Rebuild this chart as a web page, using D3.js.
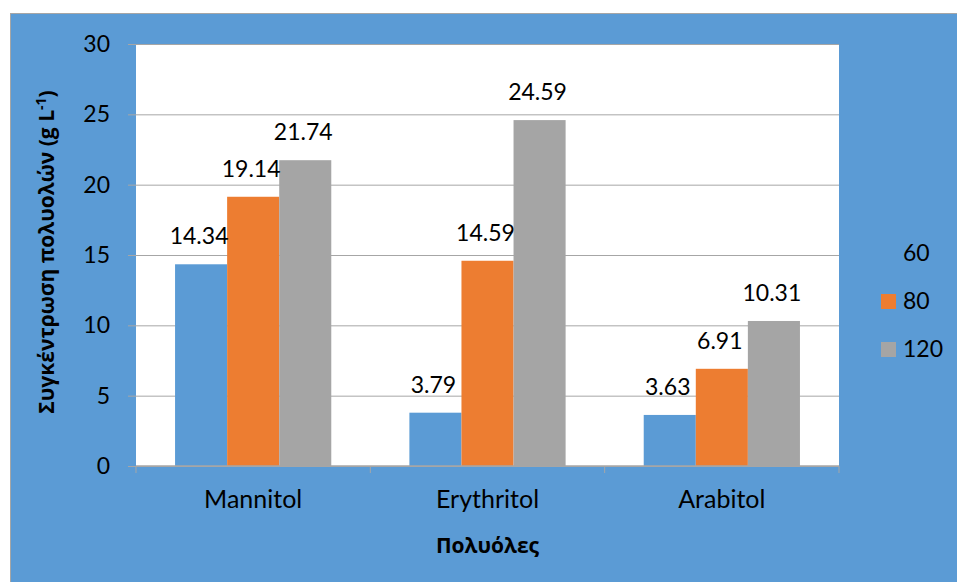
<!DOCTYPE html>
<html>
<head>
<meta charset="utf-8">
<script src="https://cdn.jsdelivr.net/npm/d3@7"></script>
<style>
  html, body { margin: 0; padding: 0; background: #ffffff; }
  svg { display: block; }
  text { font-family: Lato, "Open Sans", "Noto Sans", sans-serif; fill: #000; }
  .title { font-family: "Open Sans", "Noto Sans", sans-serif; font-weight: 700; }
</style>
</head>
<body>
<svg id="chart" width="957" height="582"></svg>
<script>
// Polyol concentration per sugar alcohol and series
const categories = ["Mannitol", "Erythritol", "Arabitol"];
const seriesNames = ["60", "80", "120"];
const values60 = [14.34, 3.79, 3.63];
const values80 = [19.14, 14.59, 6.91];
const values120 = [21.74, 24.59, 10.31];
const yTicks = [0, 5, 10, 15, 20, 25, 30];
const xTitle = "Πολυόλες";
const yTitle = "Συγκέντρωση πολυολών (g L";

const colors = ["#5B9BD5", "#ED7D31", "#A5A5A5"];
const seriesValues = [values60, values80, values120];

const svg = d3.select("#chart");
const W = 957, H = 582;

// chart area background
svg.append("rect")
  .attr("x", 10.5).attr("y", 13.5)
  .attr("width", W).attr("height", H)
  .attr("fill", "#5B9BD5")
  .attr("stroke", "#A6A6A6").attr("stroke-width", 1);

const plot = { left: 136, right: 839, top: 44, bottom: 466 };

const x = d3.scaleBand()
  .domain(categories)
  .range([plot.left, plot.right])
  .paddingInner(0).paddingOuter(0);

const xSeries = d3.scaleBand()
  .domain(seriesNames)
  .range([0, x.bandwidth()])
  .paddingInner(0)
  .paddingOuter(0.75);

const y = d3.scaleLinear().domain([0, 30]).range([plot.bottom, plot.top]);

// plot area
svg.append("rect")
  .attr("x", plot.left).attr("y", plot.top)
  .attr("width", plot.right - plot.left).attr("height", plot.bottom - plot.top)
  .attr("fill", "#ffffff");

// horizontal gridlines with left ticks
const yAxis = d3.axisLeft(y)
  .tickValues(yTicks)
  .tickSize(-(plot.right - plot.left))
  .tickPadding(26)
  .tickFormat(d3.format("d"));

const gy = svg.append("g")
  .attr("transform", `translate(${plot.left},0)`)
  .call(yAxis);
gy.select(".domain").remove();
gy.selectAll(".tick line").attr("stroke", "#A6A6A6").attr("stroke-width", 1);
gy.selectAll(".tick").append("line")
  .attr("x1", -8).attr("x2", 0)
  .attr("stroke", "#A6A6A6").attr("stroke-width", 1);
gy.selectAll(".tick text")
  .attr("font-size", 23)
  .attr("fill", "#000");

// bars
const groups = svg.append("g").selectAll("g")
  .data(categories)
  .join("g")
  .attr("transform", d => `translate(${x(d)},0)`);

groups.selectAll("rect")
  .data((c, i) => seriesNames.map((s, j) => ({ s, v: seriesValues[j][i], j })))
  .join("rect")
  .attr("x", d => xSeries(d.s))
  .attr("width", xSeries.bandwidth())
  .attr("y", d => y(d.v))
  .attr("height", d => y(0) - y(d.v))
  .attr("fill", d => colors[d.j]);

// value labels
groups.selectAll("text.val")
  .data((c, i) => seriesNames.map((s, j) => ({ s, v: seriesValues[j][i], j })))
  .join("text")
  .attr("class", "val")
  .attr("x", d => xSeries(d.s) + xSeries.bandwidth() / 2 - 2)
  .attr("y", d => y(d.v) - 20)
  .attr("text-anchor", "middle")
  .attr("font-size", 23)
  .text(d => d.v.toFixed(2));

// category axis
const xAxis = d3.axisBottom(x).tickSize(0).tickPadding(24);
const gx = svg.append("g")
  .attr("transform", `translate(0,${plot.bottom})`)
  .call(xAxis);
gx.select(".domain").remove();
gx.selectAll(".tick text").attr("font-size", 25).attr("fill", "#000");
gx.append("line")
  .attr("x1", plot.left).attr("x2", plot.right)
  .attr("stroke", "#A6A6A6").attr("stroke-width", 1.5);
const bounds = categories.map(c => x(c)).concat([plot.right]);
gx.selectAll("line.sep")
  .data(bounds)
  .join("line")
  .attr("class", "sep")
  .attr("x1", d => d).attr("x2", d => d)
  .attr("y1", 0).attr("y2", 7)
  .attr("stroke", "#A6A6A6").attr("stroke-width", 1);

// axis titles
svg.append("text")
  .attr("class", "title")
  .attr("x", (plot.left + plot.right) / 2)
  .attr("y", 553)
  .attr("text-anchor", "middle")
  .attr("font-size", 21)
  .text(xTitle);

const yt = svg.append("text")
  .attr("class", "title")
  .attr("transform", `translate(54,${(plot.top + plot.bottom) / 2 - 3}) rotate(-90)`)
  .attr("text-anchor", "middle")
  .attr("font-size", 21);
yt.append("tspan").text(yTitle);
yt.append("tspan").attr("dy", -8).attr("font-size", 14).text("-1");
yt.append("tspan").attr("dy", 8).text(")");

// legend
const legend = svg.append("g").selectAll("g")
  .data(seriesNames)
  .join("g")
  .attr("transform", (d, i) => `translate(881,${253 + i * 48})`);
legend.append("rect")
  .attr("x", 0).attr("y", -7)
  .attr("width", 15).attr("height", 15)
  .attr("fill", (d, i) => colors[i]);
legend.append("text")
  .attr("x", 22).attr("y", 0)
  .attr("dy", "0.35em")
  .attr("font-size", 23)
  .text(d => d);
</script>
</body>
</html>
